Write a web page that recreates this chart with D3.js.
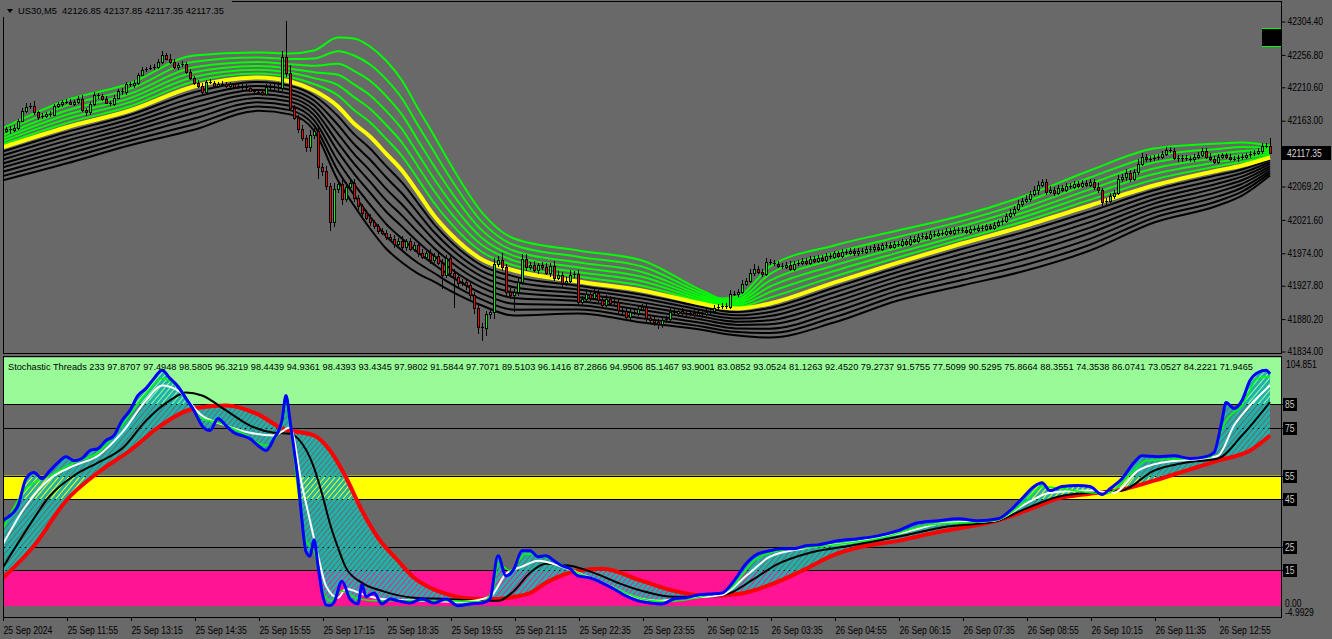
<!DOCTYPE html>
<html><head><meta charset="utf-8">
<script src="https://cdn.jsdelivr.net/npm/d3@7"></script>
<style>html,body{margin:0;padding:0;background:#696969;overflow:hidden}svg{display:block}</style>
</head><body>
<script>
// ---------------- DATA ----------------
const symbolName = "US30,M5";
const firstOpen = 42150.0;
const closes = [
42149.0,42151.8,42150.4,42153.3,42163.2,42177.5,42183.2,42184.6,42174.7,42168.9,42170.4,42173.2,42171.8,42184.6,42186.1,42190.3,
42189.9,42187.5,42190.3,42194.6,42178.9,42174.7,42186.1,42200.3,42197.5,42194.6,42188.9,42187.5,42196.0,42206.0,42203.2,42214.6,
42214.1,42217.4,42228.8,42235.9,42237.4,42238.8,42240.2,42247.3,42257.3,42251.6,42247.3,42240.2,42243.1,42244.5,42233.1,42224.5,
42217.4,42213.1,42204.6,42218.8,42217.4,42213.1,42214.6,42216.0,42213.1,42214.6,42211.7,42213.1,42211.2,42210.3,42206.0,42203.2,
42204.6,42201.7,42211.7,42210.3,42211.7,42208.9,42254.5,42231.7,42181.8,42167.5,42151.8,42139.0,42124.8,42143.3,42149.0,42097.7,
42092.0,42070.6,42017.9,42066.3,42073.4,42052.0,42069.2,42074.9,42053.5,42040.7,42032.1,42025.0,42017.9,42012.2,42006.4,42003.6,
41997.9,41995.0,41987.9,41992.2,41983.6,41990.8,41980.8,41986.5,41975.1,41969.4,41973.7,41965.1,41970.8,41960.8,41943.7,41967.9,
41946.5,41940.9,41932.3,41933.7,41929.5,41915.2,41896.7,41869.6,41868.2,41888.1,41890.9,41959.4,41965.1,41955.1,41919.5,41915.2,
41919.5,41933.7,41966.5,41955.1,41957.9,41950.8,41957.4,41955.1,41946.5,41956.5,41939.4,41943.7,41932.3,41935.2,41943.7,41945.1,
41905.2,41909.5,41916.6,41910.9,41918.1,41908.1,41900.9,41909.5,41903.8,41905.2,41893.8,41892.4,41883.8,41890.9,41889.5,41895.2,
41898.1,41882.4,41879.6,41876.7,41872.5,41878.2,41881.0,41890.9,41889.5,41892.4,41889.0,41888.1,41889.5,41886.7,41889.5,41888.1,
41890.9,41892.4,41896.7,41898.1,41899.5,41898.1,41916.6,41916.2,41919.5,41930.9,41935.2,41946.5,41952.3,41948.0,41945.1,41962.2,
41960.8,41959.4,41956.5,41955.1,41957.9,41952.3,41959.4,41960.8,41963.7,41960.8,41966.5,41963.7,41967.9,41965.1,41970.8,41969.4,
41973.7,41970.8,41976.5,41975.1,41977.9,41973.7,41977.9,41976.5,41980.8,41979.4,41983.6,41980.8,41985.1,41986.5,41983.6,41987.9,
41986.5,41990.8,41987.9,41995.0,41992.2,41997.9,41999.3,41996.5,42002.2,42000.7,42003.6,42002.2,42006.4,42003.6,42007.9,42006.4,
42007.9,42005.0,42009.3,42007.9,42010.7,42009.3,42012.2,42010.7,42015.0,42017.9,42020.7,42027.8,42032.1,42037.8,42044.9,42049.2,
42052.0,42059.2,42063.5,42072.0,42076.3,42062.0,42064.9,42060.6,42067.7,42064.9,42070.6,42069.2,42073.4,42070.6,42074.9,42072.0,
42076.3,42069.2,42063.5,42046.4,42049.2,42056.3,42060.6,42080.6,42083.4,42089.1,42080.6,42090.5,42101.9,42111.9,42107.7,42109.1,
42110.5,42111.9,42116.2,42121.9,42120.5,42110.5,42107.7,42110.5,42109.1,42107.7,42111.9,42114.7,42120.5,42111.9,42109.1,42104.8,
42111.9,42113.4,42111.5,42109.1,42108.6,42110.5,42111.9,42113.4,42116.2,42117.6,42119.1,42127.6,42126.85,42117.35];
const wickUp = [
3,2,4,3,2,3,5,4,6,2,3,2,4,2,3,2, 3,4,2,3,5,2,3,4,2,3,4,2,3,2,4,3,
4,3,2,3,2,3,4,3,5,2,7,3,2,3,2,3, 2,3,4,2,3,2,3,4,2,3,2,3,2,4,3,2,
3,2,4,3,5,6,8,51,10,4,3,5,4,6,3,4, 5,6,4,8,5,7,6,4,5,3,4,3,5,4,3,4,
4,3,5,4,6,3,5,4,3,5,4,6,3,4,5,3, 4,5,3,4,5,3,4,3,5,4,3,8,5,10,4,5,
4,5,7,6,4,5,3,4,5,4,6,5,4,5,6,4, 5,4,6,4,5,3,4,5,4,3,5,4,3,4,3,4,
3,4,3,4,3,4,3,5,4,3,4,3,4,3,4,3, 3,4,3,4,3,4,5,4,3,5,4,5,6,4,3,5,
4,3,4,3,4,5,3,4,3,4,3,4,3,4,3,4, 3,4,3,4,3,4,3,4,3,4,3,4,3,4,3,4,
3,4,3,4,3,4,3,4,3,4,3,4,3,4,3,4, 3,4,3,4,3,4,3,4,3,4,3,4,5,4,5,4,
5,4,6,5,4,3,5,4,3,4,3,4,3,4,3,4, 3,4,5,4,3,4,3,5,4,5,4,3,6,5,4,3,
3,4,3,4,3,4,3,4,3,4,3,4,3,4,5,4, 3,4,3,4,3,4,3,4,3,4,5,4,4,11];
const wickDn = [
4,3,6,4,3,2,4,3,3,5,4,3,4,2,3,4, 3,2,4,3,4,5,3,2,4,3,2,4,3,2,3,4,
3,4,3,2,3,2,3,4,3,2,4,3,5,3,4,3, 4,3,5,3,2,4,3,2,4,3,2,3,4,3,2,3,
3,4,3,4,5,3,4,6,5,4,6,5,7,6,7,18, 8,6,12,7,6,9,5,6,7,5,6,4,5,4,5,4,
5,4,6,4,5,6,4,5,6,4,5,6,5,4,20,5, 6,45,7,5,8,6,9,10,19,12,8,11,5,7,8,6,
25,7,5,6,5,4,6,5,4,6,5,4,6,5,4,5, 6,5,4,5,4,6,5,4,5,4,6,5,7,5,4,5,
4,6,5,7,6,5,4,3,4,3,4,3,4,3,4,3, 4,3,4,3,4,3,4,3,5,4,3,4,5,4,5,4,
4,3,4,3,4,3,4,3,4,3,4,3,4,3,4,3, 4,3,4,3,4,3,4,3,4,3,4,3,4,3,4,3,
4,3,4,3,4,3,4,3,4,3,4,3,4,3,4,3, 4,3,4,3,4,3,4,3,4,3,4,3,4,5,4,5,
4,5,4,6,4,5,4,5,4,3,4,3,4,3,4,3, 4,5,4,6,5,4,5,4,5,6,5,4,5,4,3,4,
3,4,3,4,3,4,3,4,3,4,3,4,3,4,3,4, 3,4,3,4,3,4,3,4,3,4,3,4,3,0];
const timeLabels = ["25 Sep 2024","25 Sep 11:55","25 Sep 13:15","25 Sep 14:35","25 Sep 15:55","25 Sep 17:15","25 Sep 18:35","25 Sep 19:55","25 Sep 21:15","25 Sep 22:35","25 Sep 23:55","26 Sep 02:15","26 Sep 03:35","26 Sep 04:55","26 Sep 06:15","26 Sep 07:35","26 Sep 08:55","26 Sep 10:15","26 Sep 11:35","26 Sep 12:55"];
const priceTicks = [42304.40,42256.80,42210.60,42163.00,42069.20,42021.60,41974.00,41927.80,41880.20,41834.00];

// ribbon (read at sample bars): middle (yellow), outermost green, outermost black
const ribbonBars  = [0,16,32,48,64,72,78,84,88,92,96,100,104,108,112,120,128,144,160,176,180,184,192,208,224,240,256,272,288,304,310,317];
const ribbonMid   = [42124.8,42153.3,42177.5,42211.7,42224.5,42218.8,42206.0,42183.2,42159.0,42140.4,42116.2,42092.0,42060.6,42027.8,42002.2,41965.1,41949.4,41933.7,41920.9,41901.0,41896.7,41895.2,41902.4,41932.3,41960.8,41987.9,42013.6,42042.1,42070.6,42092.0,42099.1,42110.5];
const ribbonUpper = [42151.8,42191.8,42216.0,42255.9,42260.2,42258.8,42263.0,42281.6,42280.1,42268.7,42248.8,42220.3,42180.4,42141.9,42101.9,42032.1,41995.0,41977.9,41963.7,41918.1,41909.5,41912.4,41955.1,41985.1,42006.4,42027.8,42056.3,42092.0,42123.3,42130.5,42131.9,42127.6];
const ribbonLower = [42077.7,42101.9,42128.0,42150.0,42177.0,42172.0,42149.0,42077.7,42042.1,42009.3,41980.8,41960.8,41945.1,41933.7,41920.9,41899.5,41885.3,41888.1,41875.3,41863.9,41859.6,41856.8,41853.9,41875.3,41906.7,41928.1,41949.4,41977.9,42017.9,42042.1,42056.3,42084.9];
const greenLevels = [1.0,0.8,0.62,0.46,0.31,0.16];
const blackLevels = [0.13,0.25,0.37,0.49,0.61,0.74,0.87,1.0];

// stochastic threads
const stochPeriod = 233;
const stochHeaderValues = [97.8707,97.4948,98.5805,96.3219,98.4439,94.9361,98.4393,93.4345,97.9802,91.5844,97.7071,89.5103,96.1416,87.2866,94.9506,85.1467,93.9001,83.0852,93.0524,81.1263,92.4520,79.2737,91.5755,77.5099,90.5295,75.8664,88.3551,74.3538,86.0741,73.0527,84.2221,71.9465];
const stochLevels = [85,75,55,45,25,15];
const blueK = [[0,36.0],[2,38.1],[4,42.3],[6,53.7],[8,56.3],[10,53.7],[12,57.1],[14,60.5],[16,63.0],[18,61.3],[20,62.2],[22,65.6],[24,66.4],[26,69.8],[28,71.9],[30,78.2],[32,82.5],[34,88.8],[36,91.8],[38,96.0],[40,99.4],[42,96.0],[44,92.6],[46,87.5],[48,82.5],[50,76.1],[52,74.0],[54,79.1],[56,76.1],[58,73.1],[60,71.9],[62,70.6],[64,67.7],[66,65.6],[68,70.6],[70,78.2],[71,88.8],[72,78.2],[73,66.0],[74,53.0],[75,36.0],[76,23.0],[77,21.0],[78,28.0],[79,17.0],[80,6.0],[81,0.5],[82,0.2],[83,1.5],[85,10.5],[87,3.0],[89,1.0],[90,9.0],[91,4.0],[93,5.5],[95,0.9],[97,3.0],[99,2.2],[102,1.3],[105,3.0],[108,1.3],[111,3.0],[114,0.1],[117,0.9],[120,1.3],[122,3.0],[124,21.2],[126,12.7],[128,15.7],[130,23.3],[132,23.3],[134,20.8],[136,21.2],[138,19.1],[140,17.0],[142,15.7],[144,12.7],[147,11.9],[150,9.8],[153,7.2],[156,4.3],[159,2.2],[162,1.3],[165,0.9],[168,3.0],[171,3.5],[174,4.7],[177,5.1],[180,5.5],[183,10.6],[186,17.8],[189,22.0],[192,23.3],[195,24.2],[198,24.2],[201,25.4],[204,25.8],[209,27.5],[214,28.4],[219,29.6],[224,31.8],[229,35.1],[234,36.0],[239,36.8],[244,36.0],[249,36.8],[252,40.2],[255,45.3],[258,50.4],[260,52.0],[262,48.7],[265,50.4],[269,50.8],[272,50.4],[275,47.0],[277,49.5],[280,53.7],[283,60.5],[285,63.4],[289,63.0],[293,63.4],[297,62.2],[301,63.0],[303,64.7],[305,78.2],[306,85.8],[308,83.3],[310,86.7],[312,95.1],[314,98.5],[316,99.4],[317,97.87]];
const limeK = [[0,31.8],[6,49.5],[12,55.0],[18,60.5],[24,64.7],[30,76.1],[36,89.6],[40,96.0],[44,92.6],[50,79.1],[54,77.4],[60,73.1],[66,67.7],[70,76.1],[71,84.6],[72,76.1],[74,48.7],[76,27.5],[78,23.3],[80,7.3],[82,2.2],[85,6.4],[89,3.0],[95,2.2],[110,2.2],[120,1.8],[123,8.5],[124,18.2],[127,14.9],[131,22.0],[137,19.9],[144,14.0],[152,8.5],[160,3.0],[166,1.8],[176,4.3],[182,7.3],[188,19.1],[194,23.3],[204,25.0],[220,28.8],[232,34.3],[248,36.0],[256,44.4],[260,50.4],[266,49.1],[276,47.4],[282,55.4],[286,61.3],[302,62.7],[306,78.2],[310,84.6],[314,96.0],[317,96.8]];
const whiteK = [[0,25.4],[6,42.3],[12,53.7],[18,59.2],[24,63.4],[30,73.1],[36,86.7],[40,93.0],[44,90.9],[50,80.3],[56,76.1],[62,73.1],[68,71.9],[72,75.3],[75,50.8],[77,36.0],[79,21.2],[81,8.5],[84,3.5],[86,7.3],[90,5.1],[95,3.0],[105,2.2],[115,1.8],[122,3.9],[126,13.6],[130,16.6],[134,19.1],[140,16.6],[146,12.7],[152,8.5],[158,3.9],[164,2.2],[172,3.5],[180,4.7],[186,12.7],[192,20.8],[200,24.2],[212,26.7],[224,30.5],[236,35.1],[248,36.0],[256,43.2],[262,47.8],[272,48.7],[278,47.8],[284,57.1],[290,60.5],[300,62.2],[304,63.4],[308,76.1],[312,84.6],[317,93.0]];
const blackK = [[0,15.7],[6,31.8],[12,46.5],[18,55.0],[24,60.5],[30,66.4],[36,78.2],[42,86.7],[46,90.1],[50,88.8],[56,82.5],[62,76.1],[68,73.1],[72,72.7],[74,70.6],[78,58.4],[80,47.4],[82,34.7],[84,24.6],[86,16.1],[90,9.8],[95,6.4],[103,3.5],[111,3.0],[120,2.2],[124,2.2],[128,6.4],[132,14.0],[136,17.8],[142,17.0],[148,14.0],[154,9.8],[160,6.4],[168,3.9],[176,3.9],[182,5.5],[188,11.5],[194,17.8],[202,22.5],[212,25.4],[224,29.2],[236,33.4],[248,35.6],[256,41.1],[264,46.1],[272,47.8],[280,48.7],[288,57.1],[296,60.5],[304,62.2],[310,71.9],[317,86.0]];
const redK = [[0,11.5],[8,25.4],[16,44.4],[24,56.3],[32,65.6],[40,76.5],[48,83.3],[56,84.6],[64,80.8],[70,74.9],[78,71.9],[82,65.6],[86,54.2],[90,40.2],[94,28.8],[99,19.1],[103,11.9],[107,7.7],[111,5.1],[115,3.5],[120,3.0],[124,3.0],[128,3.9],[132,5.5],[136,9.8],[144,14.9],[150,15.7],[160,10.6],[168,6.4],[176,4.3],[184,5.1],[192,8.9],[200,14.9],[208,21.6],[216,25.4],[224,27.5],[232,30.5],[240,33.0],[248,35.6],[256,40.2],[264,45.3],[272,47.4],[280,49.1],[288,52.9],[296,57.1],[304,61.3],[312,65.6],[317,71.95]];

// ---------------- DRAW ----------------
const W = 1332, H = 639;
const FONT = '"Liberation Sans",Arial,sans-serif';
const BG = '#696969';
const P = {l: 3.5, r: 1281.5, t1: 1.5, b1: 353.5, t2: 356.5, b2: 617.5};

const svg = d3.select('body').append('svg').attr('width', W).attr('height', H)
  .style('font-family', FONT).style('font-size', '10px');
svg.append('rect').attr('width', W).attr('height', H).attr('fill', BG);

// narrow the (Tahoma-like) labels
function squeeze(sel, f) {
  sel.each(function () {
    const L = this.getComputedTextLength();
    d3.select(this).attr('textLength', (L * f).toFixed(1)).attr('lengthAdjust', 'spacingAndGlyphs');
  });
}

const defs = svg.append('defs');
defs.append('clipPath').attr('id', 'c1').append('rect').attr('x', 4).attr('y', 2).attr('width', 1277).attr('height', 351);
defs.append('clipPath').attr('id', 'c2').append('rect').attr('x', 4).attr('y', 357).attr('width', 1277).attr('height', 260);
const pat = defs.append('pattern').attr('id', 'threads').attr('patternUnits', 'userSpaceOnUse')
  .attr('width', 4).attr('height', 4).attr('patternTransform', 'rotate(40)');
pat.append('rect').attr('width', 3).attr('height', 4).attr('fill', '#20b2aa');

const n = closes.length;
const x = d3.scaleLinear().domain([0, n - 1]).range([2, 2 + 4 * (n - 1)]);
const yP = d3.scaleLinear().domain([41834.0, 42304.4]).range([351.5, 21.5]);
const yS = d3.scaleLinear().domain([-4.9929, 104.851]).range([617.9, 357.4]);

// ---- price panel ----
const g1 = svg.append('g').attr('clip-path', 'url(#c1)');
const ribLine = d3.line().x(d => x(d[0])).y(d => yP(d[1])).curve(d3.curveMonotoneX);
function ribbon(outer, lvl) {
  return ribbonBars.map((b, k) => [b, ribbonMid[k] + lvl * (outer[k] - ribbonMid[k])]);
}
blackLevels.forEach(l => g1.append('path').attr('d', ribLine(ribbon(ribbonLower, l)))
  .attr('fill', 'none').attr('stroke', '#000').attr('stroke-width', 2));
greenLevels.forEach(l => g1.append('path').attr('d', ribLine(ribbon(ribbonUpper, l)))
  .attr('fill', 'none').attr('stroke', '#00ff00').attr('stroke-width', 2));
g1.append('path').attr('d', ribLine(ribbonBars.map((b, k) => [b, ribbonMid[k]])))
  .attr('fill', 'none').attr('stroke', '#ffff00').attr('stroke-width', 4);

const candles = closes.map((c, i) => {
  const o = i === 0 ? firstOpen : closes[i - 1];
  return {i, o, c, h: Math.max(o, c) + wickUp[i], l: Math.min(o, c) - wickDn[i]};
});
const cg = g1.append('g').attr('shape-rendering', 'crispEdges');
candles.forEach(d => {
  const cx = Math.round(x(d.i));
  const yh = Math.round(yP(d.h)), yl = Math.round(yP(d.l));
  cg.append('rect').attr('x', cx).attr('y', yh).attr('width', 1).attr('height', Math.max(1, yl - yh)).attr('fill', '#000');
  const top = Math.round(yP(Math.max(d.o, d.c))), bot = Math.round(yP(Math.min(d.o, d.c)));
  if (bot - top < 2) {
    cg.append('rect').attr('x', cx - 1).attr('y', top).attr('width', 3).attr('height', 1).attr('fill', '#000');
  } else {
    cg.append('rect').attr('x', cx - 1).attr('y', top).attr('width', 3).attr('height', bot - top + 1).attr('fill', '#000');
    cg.append('rect').attr('x', cx).attr('y', top + 1).attr('width', 1).attr('height', bot - top - 1)
      .attr('fill', d.c >= d.o ? '#00ff00' : '#ff0000');
  }
});
// one-click box
svg.append('rect').attr('x', 1262).attr('y', 28).attr('width', 19).attr('height', 19).attr('fill', '#000');
svg.append('line').attr('x1', 1262).attr('x2', 1281).attr('y1', 28.5).attr('y2', 28.5).attr('stroke', '#00ff00');
svg.append('line').attr('x1', 1262).attr('x2', 1281).attr('y1', 46.5).attr('y2', 46.5).attr('stroke', '#00ff00');

// ---- stochastic panel ----
const g2 = svg.append('g').attr('clip-path', 'url(#c2)');
const zone = (a, b, col) => g2.append('rect').attr('x', 4).attr('width', 1277)
  .attr('y', yS(b)).attr('height', yS(a) - yS(b)).attr('fill', col);
zone(85, 104.851, '#98fb98');
zone(45, 55, '#ffff00');
zone(0, 15, '#ff1493');
stochLevels.forEach(v => g2.append('line').attr('x1', 4).attr('x2', 1281)
  .attr('y1', Math.round(yS(v)) + 0.5).attr('y2', Math.round(yS(v)) + 0.5).attr('stroke', '#000'));
const sLine = d3.line().x(d => x(d[0])).y(d => yS(d[1])).curve(d3.curveMonotoneX);
const fillPath = sLine(blueK) + 'L' + sLine(redK.slice().reverse()).slice(1);
g2.append('path').attr('d', fillPath).attr('fill', 'url(#threads)').attr('stroke', 'none');
[[redK, '#ff0000', 4], [blackK, '#000', 2], [whiteK, '#fff', 2], [limeK, '#00ff00', 1.5], [blueK, '#0000ff', 3]]
  .forEach(([data, col, w]) => g2.append('path').attr('d', sLine(data)).attr('fill', 'none')
    .attr('stroke', col).attr('stroke-width', w).attr('stroke-linejoin', 'round'));

// ---- frames ----
const frame = svg.append('g').attr('fill', 'none').attr('stroke', '#000').attr('shape-rendering', 'crispEdges');
frame.append('rect').attr('x', P.l).attr('y', P.t1).attr('width', P.r - P.l).attr('height', P.b1 - P.t1);
frame.append('rect').attr('x', P.l).attr('y', P.t2).attr('width', P.r - P.l).attr('height', P.b2 - P.t2);

// header (price)
const last = candles[n - 1];
svg.append('rect').attr('x', 0).attr('y', 0).attr('width', 232).attr('height', 17).attr('fill', BG);
svg.append('path').attr('d', 'M7,9L13,9L10,13Z').attr('fill', '#000');
svg.append('text').attr('x', 18).attr('y', 14).attr('fill', '#000').style('white-space', 'pre')
  .style('font-size', '9.5px').attr('textLength', 206).attr('lengthAdjust', 'spacingAndGlyphs')
  .text(`${symbolName}  ${last.o.toFixed(2)} ${last.h.toFixed(2)} ${last.l.toFixed(2)} ${last.c.toFixed(2)}`);

// header (stochastic)
svg.append('text').attr('x', 8).attr('y', 370).attr('fill', '#000').style('font-size', '9px')
  .attr('textLength', 1245).attr('lengthAdjust', 'spacingAndGlyphs')
  .text(`Stochastic Threads ${stochPeriod} ` + stochHeaderValues.map(v => v.toFixed(4)).join(' '));

// price axis
const pa = svg.append('g').attr('transform', 'translate(1281.5,0)')
  .call(d3.axisRight(yP).tickValues(priceTicks).tickFormat(d3.format('.2f')).tickSize(4).tickPadding(2));
pa.select('.domain').remove();
pa.selectAll('text').attr('fill', '#000').style('font-family', FONT).style('font-size', '10px');
pa.selectAll('line').attr('stroke', '#000');
squeeze(pa.selectAll('text'), 0.85);
// current price label
const yc = Math.round(yP(last.c));
svg.append('rect').attr('x', 1282).attr('y', yc - 7).attr('width', 49).attr('height', 14).attr('fill', '#000');
const cpl = svg.append('text').attr('x', 1287).attr('y', yc + 4).attr('fill', '#d8d8d8').text(last.c.toFixed(2));
squeeze(cpl, 0.85);

// stochastic axis
const sa = svg.append('g');
sa.append('text').attr('x', 1286).attr('y', 368).attr('fill', '#000').text('104.851');
stochLevels.forEach(v => {
  const yy = Math.round(yS(v));
  sa.append('line').attr('x1', 1281).attr('x2', 1285).attr('y1', yy + 0.5).attr('y2', yy + 0.5).attr('stroke', '#000');
  sa.append('rect').attr('x', 1283).attr('y', yy - 6).attr('width', 14).attr('height', 13).attr('fill', '#000');
  sa.append('text').attr('x', 1285).attr('y', yy + 4).attr('fill', '#c8c8c8').text(String(v));
});
sa.append('text').attr('x', 1285).attr('y', 607).attr('fill', '#000').text('0.00');
sa.append('text').attr('x', 1285).attr('y', 616).attr('fill', '#000').text('-4.9929');
squeeze(sa.selectAll('text'), 0.85);

// time axis
const tickBars = timeLabels.map((_, k) => k * 16);
const ta = svg.append('g').attr('transform', 'translate(1,617)')
  .call(d3.axisBottom(x).tickValues(tickBars).tickFormat((d, k) => timeLabels[k]).tickSize(4).tickPadding(3));
ta.select('.domain').remove();
ta.selectAll('line').attr('stroke', '#000');
ta.selectAll('text').attr('fill', '#000').attr('text-anchor', 'start').attr('x', 0).attr('dy', '0.95em')
  .style('font-family', FONT).style('font-size', '10px');
squeeze(ta.selectAll('text'), 0.86);
</script>
</body></html>
